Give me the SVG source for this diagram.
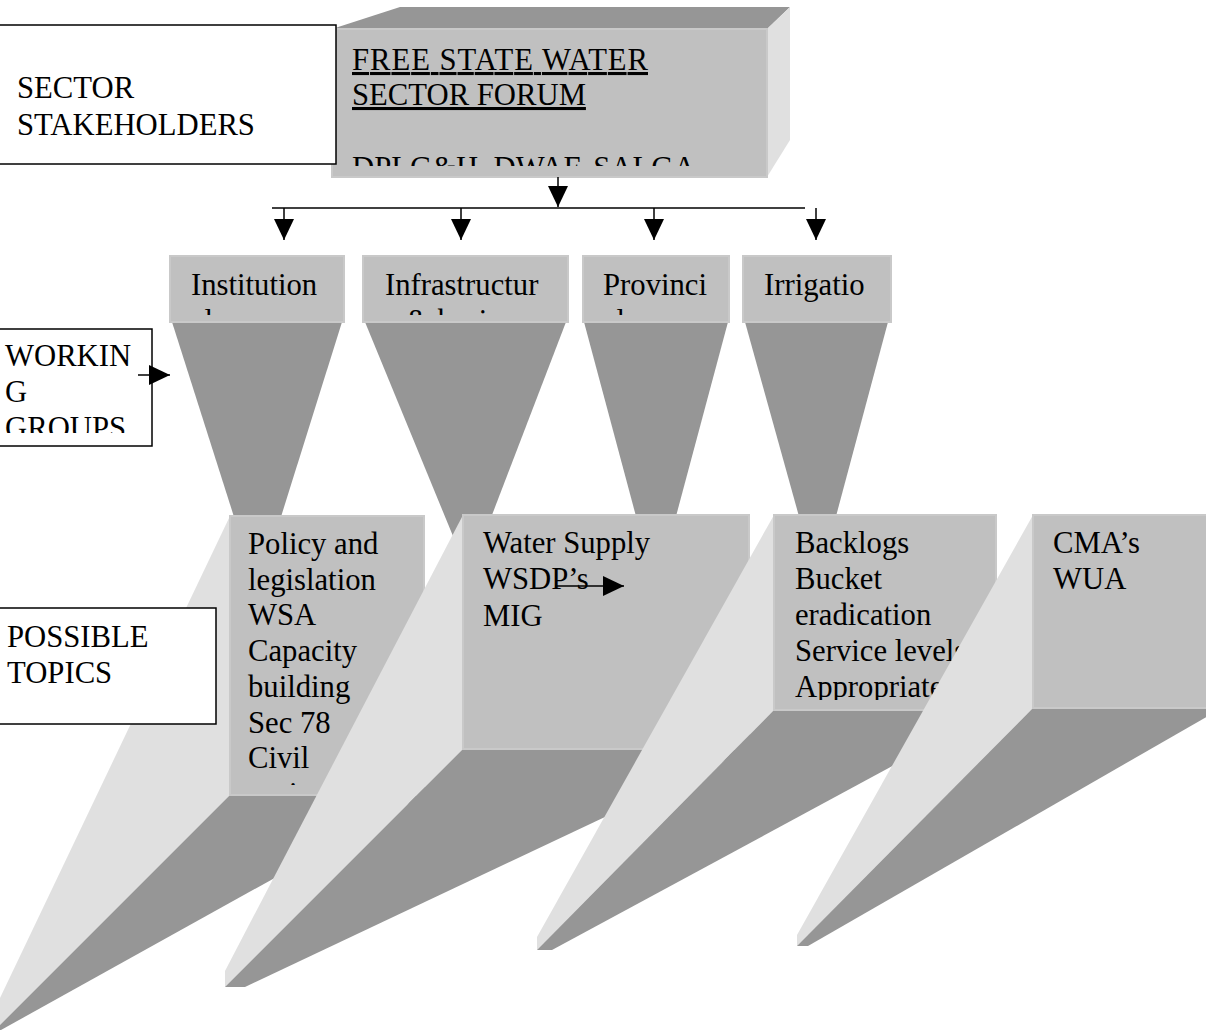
<svg xmlns="http://www.w3.org/2000/svg" width="1206" height="1030" viewBox="0 0 1206 1030">
<style>
text{font-family:"Liberation Serif","Times New Roman",serif;font-size:30.7px;fill:#000}
.front{fill:#c0c0c0;stroke:#c9c9c9;stroke-width:2}
.light{fill:#e0e0e0}
.dark{fill:#969696}
.label{fill:#fff;stroke:#000;stroke-width:1.5}
.conn{stroke:#000;stroke-width:1.5;fill:none}
</style>
<defs>
<marker id="ah" markerUnits="userSpaceOnUse" markerWidth="21" markerHeight="20" refX="21" refY="10" orient="auto">
<path d="M0,0 L21,10 L0,20 z" fill="#000"/>
</marker>
<clipPath id="cForum"><rect x="335" y="30" width="430" height="136"/></clipPath>
<clipPath id="cWG"><rect x="0" y="330" width="150" height="103"/></clipPath>
<clipPath id="cH1"><rect x="170" y="256" width="174" height="59"/></clipPath>
<clipPath id="cH2"><rect x="363" y="256" width="205" height="59"/></clipPath>
<clipPath id="cH3"><rect x="583" y="256" width="146" height="59"/></clipPath>
<clipPath id="cH4"><rect x="743" y="256" width="148" height="59"/></clipPath>
<clipPath id="cT1"><rect x="230" y="516" width="194" height="269"/></clipPath>
<clipPath id="cT3"><rect x="774" y="515" width="222" height="185"/></clipPath>
</defs>

<!-- funnels (under the topic boxes) -->
<g id="funnels">
<polygon class="dark" points="172,322 342,322 280,520 235,520"/>
<polygon class="dark" points="365,322 566,322 469,575"/>
<polygon class="dark" points="584,322 728,322 675,520 637,520"/>
<polygon class="dark" points="745,322 888,322 835,520 800,520"/>
</g>

<g id="forum">
<polygon class="dark" points="332,29 400,7 790,7 767,29"/>
<polygon class="light" points="767,29 790,7 790,140 767,177"/>
<rect class="front" x="332" y="29" width="435" height="148"/>
<g clip-path="url(#cForum)">
<text x="352" y="70" text-decoration="underline" textLength="296" lengthAdjust="spacing">FREE STATE WATER</text>
<text x="352" y="105" text-decoration="underline">SECTOR FORUM</text>
<text x="352" y="178">DPLG&amp;H, DWAF, SALGA</text>
</g>
</g>

<g id="stakeholders">
<rect class="label" x="-2" y="25" width="338" height="139"/>
<text x="17" y="98">SECTOR</text>
<text x="17" y="135">STAKEHOLDERS</text>
</g>

<g id="wg-institutional">
<rect class="front" x="170" y="256" width="174" height="66"/>
<g clip-path="url(#cH1)"><text x="191" y="295">Institution</text><text x="191" y="330.5">al</text></g>
</g>
<g id="wg-infrastructure">
<rect class="front" x="363" y="256" width="205" height="66"/>
<g clip-path="url(#cH2)"><text x="385" y="295">Infrastructur</text><text x="385" y="330.5">e &amp; basic</text></g>
</g>
<g id="wg-provincial">
<rect class="front" x="583" y="256" width="146" height="66"/>
<g clip-path="url(#cH3)"><text x="603" y="295">Provinci</text><text x="603" y="330.5">al</text></g>
</g>
<g id="wg-irrigation">
<rect class="front" x="743" y="256" width="148" height="66"/>
<g clip-path="url(#cH4)"><text x="764" y="295">Irrigatio</text></g>
</g>

<g id="topic-policy">
<polygon class="light" points="230,516 230,795 -10,1035 -10,1019"/>
<polygon class="dark" points="230,795 424,795 -8,1035 -10,1035"/>
<rect class="front" x="230" y="516" width="194" height="279"/>
<g clip-path="url(#cT1)">
<text x="248" y="554">Policy and</text>
<text x="248" y="589.7">legislation</text>
<text x="248" y="625.4">WSA</text>
<text x="248" y="661.1">Capacity</text>
<text x="248" y="696.8">building</text>
<text x="248" y="732.5">Sec 78</text>
<text x="248" y="768.2">Civil</text>
<text x="248" y="803.9">society</text>
</g>
</g>

<g id="topic-water">
<polygon class="light" points="463,515 463,749 225,987 225,971"/>
<polygon class="dark" points="463,749 749,749 245,987 225,987"/>
<rect class="front" x="463" y="515" width="286" height="234"/>
<text x="483" y="553">Water Supply</text>
<text x="483" y="589">WSDP’s</text>
<text x="483" y="626">MIG</text>
</g>

<g id="topic-backlogs">
<polygon class="light" points="774,515 774,710 537,950 537,937"/>
<polygon class="dark" points="774,710 996,710 552,950 537,950"/>
<rect class="front" x="774" y="515" width="222" height="195"/>
<g clip-path="url(#cT3)">
<text x="795" y="553">Backlogs</text>
<text x="795" y="589">Bucket</text>
<text x="795" y="625">eradication</text>
<text x="795" y="661">Service levels</text>
<text x="795" y="697">Appropriate</text>
</g>
</g>

<g id="topic-cma">
<polygon class="light" points="1033,515 1033,708 797,946 797,935"/>
<polygon class="dark" points="1033,708 1222,708 808,946 797,946"/>
<rect class="front" x="1033" y="515" width="189" height="193"/>
<text x="1053" y="553">CMA’s</text>
<text x="1053" y="589">WUA</text>
</g>

<g id="working-groups">
<rect class="label" x="-2" y="329" width="154" height="117"/>
<g clip-path="url(#cWG)">
<text x="5" y="366">WORKIN</text>
<text x="5" y="402">G</text>
<text x="5" y="438">GROUPS</text>
</g>
</g>

<g id="possible-topics">
<rect class="label" x="-2" y="608" width="218" height="116"/>
<text x="7" y="647">POSSIBLE</text>
<text x="7" y="683">TOPICS</text>
</g>

<g id="connectors">
<line class="conn" x1="558" y1="177" x2="558" y2="207" marker-end="url(#ah)"/>
<line class="conn" x1="272" y1="208" x2="805" y2="208"/>
<line class="conn" x1="284" y1="208" x2="284" y2="240" marker-end="url(#ah)"/>
<line class="conn" x1="461" y1="208" x2="461" y2="240" marker-end="url(#ah)"/>
<line class="conn" x1="654" y1="208" x2="654" y2="240" marker-end="url(#ah)"/>
<line class="conn" x1="816" y1="208" x2="816" y2="240" marker-end="url(#ah)"/>
<line class="conn" x1="138" y1="375" x2="170" y2="375" marker-end="url(#ah)"/>
<line class="conn" x1="555" y1="586" x2="624" y2="586" marker-end="url(#ah)"/>
</g>
</svg>
